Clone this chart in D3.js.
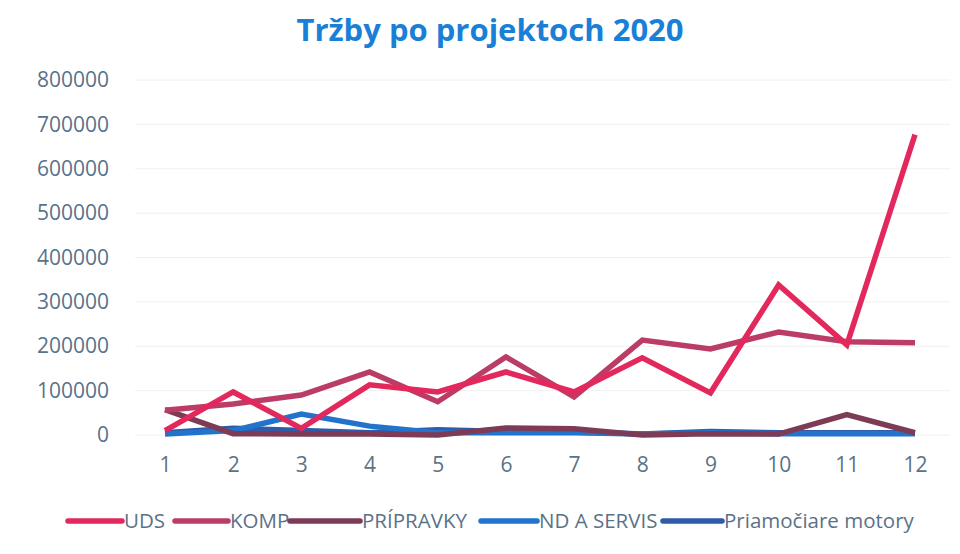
<!DOCTYPE html>
<html>
<head>
<meta charset="utf-8">
<script src="https://cdn.jsdelivr.net/npm/d3@7"></script>
<style>
  body { margin: 0; background: #fff; }
  svg { display: block; font-family: "Open Sans", sans-serif; }
</style>
</head>
<body>
<svg id="chart" width="960" height="554"></svg>
<script>
const months = [1, 2, 3, 4, 5, 6, 7, 8, 9, 10, 11, 12];
const yTicks = [0, 100000, 200000, 300000, 400000, 500000, 600000, 700000, 800000];
const seriesNames = ["UDS", "KOMP", "PRÍPRAVKY", "ND A SERVIS", "Priamočiare motory"];
const seriesColors = ["#e2285c", "#bb3d66", "#7d3b55", "#2273cc", "#2f5ba8"];

// values
const uds = [10000, 97000, 15000, 113000, 97000, 142000, 97000, 174000, 95000, 338000, 203000, 677000];
const komp = [56000, 70000, 90000, 142000, 75000, 176000, 86000, 214000, 194000, 232000, 210000, 208000];
const pripravky = [57000, 3000, 2000, 2000, 0, 16000, 14000, 0, 3000, 2000, 46000, 5000];
const ndServis = [2000, 10000, 47000, 20000, 5000, 5000, 5000, 2000, 5000, 3000, 3000, 3000];
const motory = [5000, 15000, 10000, 5000, 12000, 8000, 8000, 2000, 8000, 5000, 5000, 5000];

const series = [uds, komp, pripravky, ndServis, motory];

const svg = d3.select("#chart");
const plot = { left: 135, right: 950, top: 80, bottom: 435 };

const x = d3.scalePoint()
    .domain(months)
    .range([165, 915]);

const y = d3.scaleLinear()
    .domain([0, 800000])
    .range([plot.bottom, plot.top]);

// gridlines
svg.append("g")
    .selectAll("line")
    .data(yTicks)
    .join("line")
    .attr("x1", plot.left)
    .attr("x2", plot.right)
    .attr("y1", d => y(d))
    .attr("y2", d => y(d))
    .attr("stroke", "#f0f0f0")
    .attr("stroke-width", 1);

// y axis labels
const yAxis = svg.append("g")
    .attr("transform", "translate(109,0)")
    .call(d3.axisLeft(y).tickValues(yTicks).tickSize(0).tickPadding(0).tickFormat(d => d));
yAxis.select(".domain").remove();
yAxis.selectAll("text")
    .attr("fill", "#5a7288")
    .style("font-size", "21px")
    .style("font-family", "Open Sans, sans-serif");

// x axis labels
const xAxis = svg.append("g")
    .attr("transform", `translate(0,${plot.bottom + 22})`)
    .call(d3.axisBottom(x).tickSize(0).tickPadding(0));
xAxis.select(".domain").remove();
xAxis.selectAll("text")
    .attr("fill", "#5a7288")
    .style("font-size", "21px")
    .style("font-family", "Open Sans, sans-serif");

// lines, drawn back to front
const line = d3.line()
    .x((d, i) => x(months[i]))
    .y(d => y(d));

const order = [4, 3, 2, 1, 0];
svg.append("g")
    .selectAll("path")
    .data(order)
    .join("path")
    .attr("d", i => line(series[i]))
    .attr("fill", "none")
    .attr("stroke", i => seriesColors[i])
    .attr("stroke-width", 5.5)
    .attr("stroke-linejoin", "miter")
    .attr("stroke-linecap", "butt");

// title
svg.append("text")
    .attr("x", 490)
    .attr("y", 41)
    .attr("text-anchor", "middle")
    .attr("fill", "#1a7fd6")
    .style("font-size", "31px")
    .style("font-weight", "bold")
    .text("Tržby po projektoch 2020");

// legend
const legendX = [68, 175, 290, 481, 663];
const legendLen = [54, 53, 70, 56, 59];
const legend = svg.append("g")
    .selectAll("g")
    .data(seriesNames)
    .join("g")
    .attr("transform", (d, i) => `translate(${legendX[i]},521)`);

legend.append("line")
    .attr("x1", 0)
    .attr("x2", (d, i) => legendLen[i])
    .attr("stroke", (d, i) => seriesColors[i])
    .attr("stroke-width", 5.5)
    .attr("stroke-linecap", "round");

legend.append("text")
    .attr("x", (d, i) => legendLen[i] + 2)
    .attr("dy", "0.35em")
    .attr("fill", "#5a7288")
    .style("font-size", "20.5px")
    .text(d => d);
</script>
</body>
</html>
